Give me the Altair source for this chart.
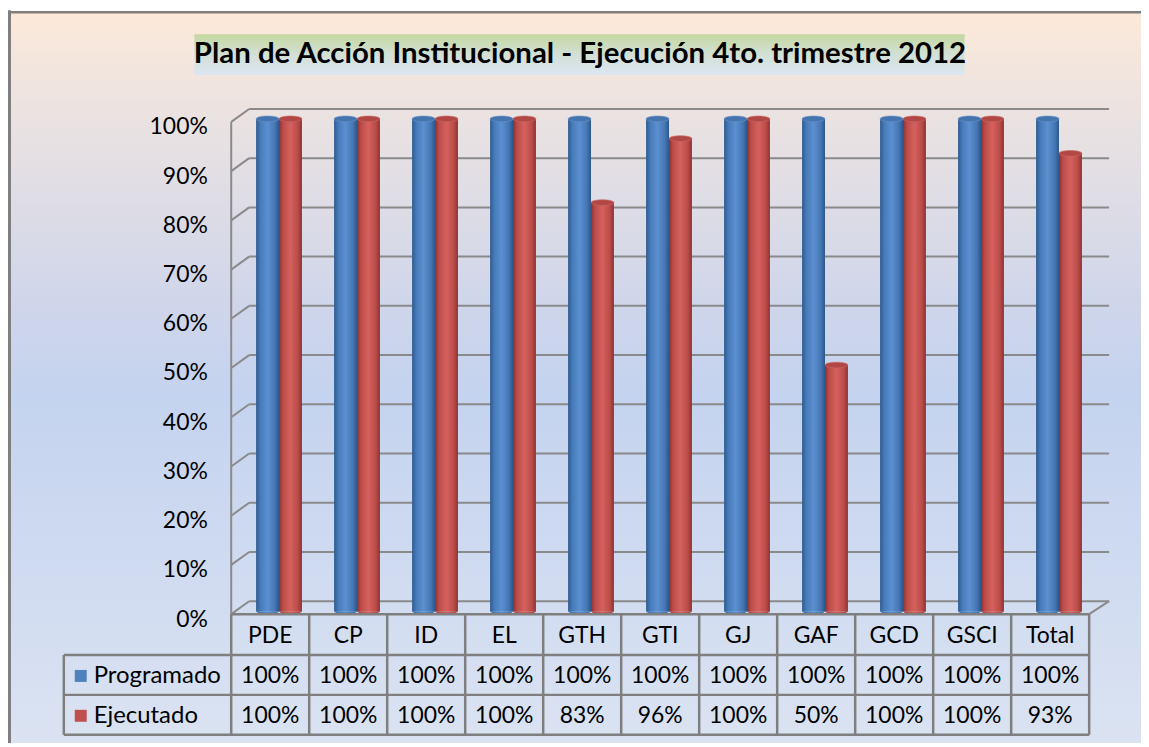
import altair as alt
import pandas as pd

categories = ["PDE", "CP", "ID", "EL", "GTH", "GTI", "GJ", "GAF", "GCD", "GSCI", "Total"]
series_names = ["Programado", "Ejecutado"]
programado = [1.00, 1.00, 1.00, 1.00, 1.00, 1.00, 1.00, 1.00, 1.00, 1.00, 1.00]
ejecutado = [1.00, 1.00, 1.00, 1.00, 0.83, 0.96, 1.00, 0.50, 1.00, 1.00, 0.93]
tick_values = [0.0, 0.1, 0.2, 0.3, 0.4, 0.5, 0.6, 0.7, 0.8, 0.9, 1.0]
title_text = "Plan de Acción Institucional - Ejecución 4to. trimestre 2012"

rows = []
for c, p, e in zip(categories, programado, ejecutado):
    rows.append({"category": c, "series": "Programado", "value": p, "zero": 0})
    rows.append({"category": c, "series": "Ejecutado", "value": e, "zero": 0})
df = pd.DataFrame(rows)
ticks_df = pd.DataFrame({"tick": tick_values})
cats_df = pd.DataFrame({"category": categories})
one = pd.DataFrame({"k": [0]})
legend_df = pd.DataFrame({"series": series_names})

FONT = "Lato"
GRID = "#8a8a8a"
TFS = 23
W, H = 861, 494

def grad_h(stops):
    return alt.Gradient(gradient="linear", x1=0, y1=0, x2=1, y2=0,
                        stops=[alt.GradientStop(offset=o, color=c) for o, c in stops])

def grad_v(stops):
    return alt.Gradient(gradient="linear", x1=0, y1=0, x2=0, y2=1,
                        stops=[alt.GradientStop(offset=o, color=c) for o, c in stops])

blue_grad = grad_h([(0, "#2c5a8f"), (0.18, "#467ab8"), (0.5, "#5b8fd0"), (0.82, "#4677b4"), (1, "#2b578a")])
red_grad = grad_h([(0, "#8a302f"), (0.18, "#bd4d4a"), (0.5, "#d4615e"), (0.82, "#bc4c49"), (1, "#893231")])

ys = alt.Scale(domain=[0, 1])
y_axis = alt.Axis(values=tick_values, format=".0%", title=None, domain=False, ticks=False,
                  grid=False, labelFont=FONT, labelFontSize=23, labelColor="#000000",
                  labelPadding=24, labelOffset=8, zindex=2)
X = alt.X("category:N", sort=categories,
          scale=alt.Scale(domain=categories, paddingInner=0, paddingOuter=0), axis=None)
XO = alt.XOffset("series:N", scale=alt.Scale(domain=series_names, paddingInner=0,
                                              paddingOuter=0.702, align=0.774))

# background
bg = alt.Chart(one).mark_rect(fill=grad_v([(0, "#fde9d9"), (0.13, "#ece3e1"), (0.39, "#d0d6ea"),
                                            (0.52, "#c4d3ef"), (1, "#dbe3f2")])).encode(
    x=alt.value(-224), x2=alt.value(917), y=alt.value(-108), y2=alt.value(629))
border_l = alt.Chart(one).mark_rule(color="#7f7f7f", strokeWidth=3).encode(
    x=alt.value(-222.5), y=alt.value(-109), y2=alt.value(629))
border_t = alt.Chart(one).mark_rule(color="#7f7f7f", strokeWidth=2.5).encode(
    x=alt.value(-224), x2=alt.value(917), y=alt.value(-107))

# title box
tbox = alt.Chart(one).mark_rect(fill=grad_v([(0, "#c4d89f"), (0.5, "#d3e0d6"), (1, "#dce6f3")])).encode(
    x=alt.value(-37), x2=alt.value(736), y=alt.value(-85), y2=alt.value(-44))
ttext = alt.Chart(one).mark_text(text=title_text, font=FONT, fontSize=29.5, fontWeight="bold",
                                 color="#000000", align="center", baseline="middle").encode(
    x=alt.value(350), y=alt.value(-65))

# gridlines (back wall) and stubs
grid = alt.Chart(ticks_df).mark_rule(color=GRID, strokeWidth=2, yOffset=-10).encode(
    x=alt.value(18), x2=alt.value(881), y=alt.Y("tick:Q", scale=ys, axis=y_axis))
stubs = alt.Chart(ticks_df).mark_rule(color=GRID, strokeWidth=2, yOffset=3, y2Offset=-10).encode(
    x=alt.value(0), x2=alt.value(18), y=alt.Y("tick:Q", scale=ys, axis=y_axis), y2="tick:Q")
front_axis = alt.Chart(one).mark_rule(color=GRID, strokeWidth=2).encode(
    x=alt.value(0), y=alt.value(3), y2=alt.value(497))
floor_diag = alt.Chart(one).mark_rule(color=GRID, strokeWidth=2).encode(
    x=alt.value(861), x2=alt.value(881), y=alt.value(497), y2=alt.value(484))

Y = alt.Y("value:Q", scale=ys, axis=y_axis)
Y0 = alt.Y("zero:Q", scale=ys, axis=y_axis)

bottom_shape = "M-1,0A1,0.25,0,0,0,1,0Z"
top_shape = "M-1,0A1,0.25,0,1,0,1,0A1,0.25,0,1,0,-1,0Z"

layers = [bg, border_l, border_t, tbox, ttext, grid, stubs, front_axis, floor_diag]
for s, g, topc in [("Programado", blue_grad, "#4574ae"), ("Ejecutado", red_grad, "#b24846")]:
    base = alt.Chart(df).transform_filter(alt.datum.series == s)
    layers.append(base.mark_point(shape=bottom_shape, size=530, filled=True, fill=g, opacity=1,
                                  strokeWidth=0).encode(x=X, xOffset=XO, y=Y0))
    layers.append(base.mark_bar(fill=g).encode(x=X, xOffset=XO, y=Y, y2="zero:Q"))
    layers.append(base.mark_point(shape=top_shape, size=530, filled=True, fill=topc, opacity=1,
                                  stroke="#6a94c8" if s == "Programado" else "#c86a67",
                                  strokeWidth=0.6).encode(x=X, xOffset=XO, y=Y))

# table lines
hlines = []
for yv, x0 in [(497, 0), (538, -168), (578, -168), (618, -168)]:
    hlines.append(alt.Chart(one).mark_rule(color="#7f7f7f", strokeWidth=2.5).encode(
        x=alt.value(x0), x2=alt.value(W), y=alt.value(yv)))
vlines = alt.Chart(cats_df).mark_rule(color="#7f7f7f", strokeWidth=2.5).encode(
    x=alt.X("category:N", sort=categories, scale=alt.Scale(domain=categories, paddingInner=0,
                                                            paddingOuter=0), axis=None, bandPosition=0),
    y=alt.value(497), y2=alt.value(618))
vlast = alt.Chart(cats_df).transform_filter(alt.datum.category == categories[-1]).mark_rule(
    color="#7f7f7f", strokeWidth=2.5).encode(
    x=alt.X("category:N", sort=categories, scale=alt.Scale(domain=categories, paddingInner=0,
                                                            paddingOuter=0), axis=None, bandPosition=1),
    y=alt.value(497), y2=alt.value(618))
vleft = alt.Chart(one).mark_rule(color="#7f7f7f", strokeWidth=2.5).encode(
    x=alt.value(-168), y=alt.value(538), y2=alt.value(618))
layers += hlines + [vlines, vlast, vleft]

# table text
header = alt.Chart(cats_df).mark_text(font=FONT, fontSize=TFS, color="#000000", baseline="middle").encode(
    x=X, y=alt.value(519), text="category:N")
layers.append(header)
for s, yv, col in [("Programado", 559, "#4f81bd"), ("Ejecutado", 599, "#c0504d")]:
    base = alt.Chart(df).transform_filter(alt.datum.series == s)
    layers.append(base.mark_text(font=FONT, fontSize=TFS, color="#000000", baseline="middle").encode(
        x=X, y=alt.value(yv), text=alt.Text("value:Q", format=".0%")))
    leg = alt.Chart(legend_df).transform_filter(alt.datum.series == s)
    layers.append(leg.mark_rect(color=col).encode(
        x=alt.value(-157), x2=alt.value(-145), y=alt.value(yv - 6), y2=alt.value(yv + 6)))
    layers.append(leg.mark_text(font=FONT, fontSize=24, color="#000000", align="left",
                                baseline="middle").encode(
        x=alt.value(-138), y=alt.value(yv), text="series:N"))

chart = alt.layer(*layers).properties(
    width=W, height=H, autosize="none",
    padding={"left": 224, "top": 110, "right": 52, "bottom": 131},
    background="white",
).configure_view(stroke=None)

chart.save("out.html", embed_options={"renderer": "svg", "actions": False})
